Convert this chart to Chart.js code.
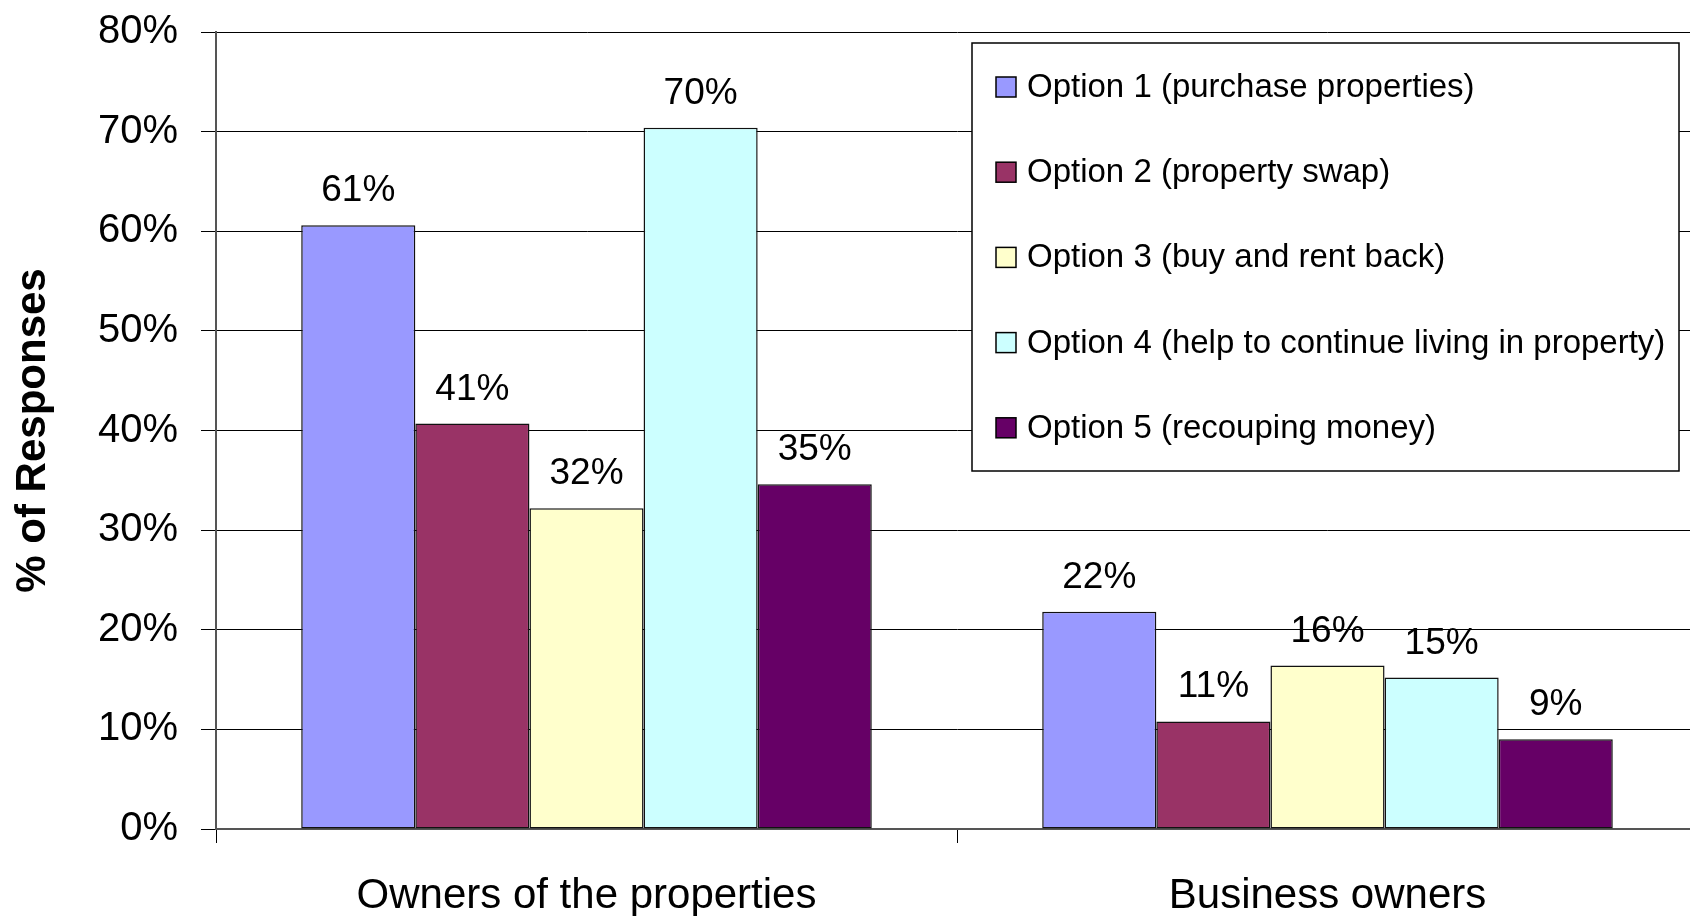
<!DOCTYPE html>
<html>
<head>
<meta charset="utf-8">
<script src="https://cdn.jsdelivr.net/npm/chart.js@4.4.0/dist/chart.umd.min.js"></script>
<style>
    html, body { margin: 0; padding: 0; background: #fff; overflow: hidden; }
    #wrap { width: 1700px; height: 916px; }
</style>
</head>
<body>
<div id="wrap"><canvas id="chart" width="1700" height="916"></canvas></div>
<script>
// data
const groups = ["Owners of the properties", "Business owners"];
const optionNames = [
    "Option 1 (purchase properties)",
    "Option 2 (property swap)",
    "Option 3 (buy and rent back)",
    "Option 4 (help to continue living in property)",
    "Option 5 (recouping money)"
];
const option1 = [60.6, 21.8];
const option2 = [40.7, 10.8];
const option3 = [32.2, 16.4];
const option4 = [70.4, 15.2];
const option5 = [34.6, 9.0];
const optionColors = ["#9999FF", "#993366", "#FFFFCC", "#CCFFFF", "#660066"];
const yTicks = [0, 10, 20, 30, 40, 50, 60, 70, 80];

const seriesValues = [option1, option2, option3, option4, option5];
const FONT = "'Liberation Sans', Arial, sans-serif";

// labels like "61%" above each bar
const valueLabels = {
    id: "valueLabels",
    afterDatasetsDraw(chart) {
        const ctx = chart.ctx;
        ctx.save();
        ctx.font = "37px " + FONT;
        ctx.fillStyle = "#000";
        ctx.textAlign = "center";
        ctx.textBaseline = "alphabetic";
        chart.data.datasets.forEach((ds, i) => {
            const meta = chart.getDatasetMeta(i);
            meta.data.forEach((bar, j) => {
                ctx.fillText(Math.round(ds.data[j]) + "%", bar.x, bar.y - 24);
            });
        });
        ctx.restore();
    }
};

// boxed legend sitting inside the plot, top right
const boxLegend = {
    id: "boxLegend",
    afterDraw(chart) {
        const ctx = chart.ctx;
        const box = { x: 972, y: 43, w: 707, h: 428 };
        ctx.save();
        ctx.fillStyle = "#fff";
        ctx.fillRect(box.x, box.y, box.w, box.h);
        ctx.strokeStyle = "#000";
        ctx.lineWidth = 1.5;
        ctx.strokeRect(box.x, box.y, box.w, box.h);
        ctx.font = "33px " + FONT;
        ctx.textBaseline = "middle";
        ctx.textAlign = "left";
        chart.data.datasets.forEach((ds, i) => {
            const cy = 87 + i * 85.2;
            ctx.fillStyle = ds.backgroundColor;
            ctx.fillRect(996, cy - 10, 20, 20);
            ctx.strokeStyle = "#000";
            ctx.lineWidth = 1.5;
            ctx.strokeRect(996, cy - 10, 20, 20);
            ctx.fillStyle = "#000";
            ctx.fillText(ds.label, 1027, cy + 1);
        });
        ctx.restore();
    }
};

const datasets = optionNames.map((name, i) => ({
    label: name,
    data: seriesValues[i],
    backgroundColor: optionColors[i],
    borderColor: "#111",
    borderWidth: 1.5,
    borderSkipped: false,
    categoryPercentage: 0.77,
    barPercentage: 1.0
}));

new Chart(document.getElementById("chart").getContext("2d"), {
    type: "bar",
    data: { labels: groups, datasets: datasets },
    options: {
        responsive: false,
        animation: false,
        devicePixelRatio: 1,
        layout: { padding: { top: 32, right: 2, bottom: 0, left: 0 } },
        plugins: {
            legend: { display: false },
            tooltip: { enabled: false }
        },
        scales: {
            x: {
                grid: {
                    drawOnChartArea: false,
                    drawTicks: true,
                    tickLength: 14,
                    color: "#000",
                    lineWidth: 1
                },
                border: { display: true, color: "#555", width: 2 },
                ticks: {
                    color: "#000",
                    font: { family: FONT, size: 42 },
                    padding: 28
                },
                afterFit: axis => { axis.height = 87; }
            },
            y: {
                min: 0,
                max: 80,
                afterBuildTicks: axis => { axis.ticks = yTicks.map(v => ({ value: v })); },
                grid: {
                    color: "#000",
                    lineWidth: 1,
                    drawTicks: true,
                    tickLength: 15
                },
                border: { display: true, color: "#555", width: 2 },
                ticks: {
                    color: "#000",
                    font: { family: FONT, size: 40 },
                    padding: 23,
                    callback: v => v + "%"
                },
                title: {
                    display: true,
                    text: "% of Responses",
                    color: "#000",
                    font: { family: FONT, size: 42, weight: "bold" },
                    padding: { top: 8, bottom: 0 }
                },
                afterFit: axis => {
                    axis.width = 216;
                    axis.paddingTop = 0;
                    axis.paddingBottom = 0;
                }
            }
        }
    },
    plugins: [valueLabels, boxLegend]
});
</script>
</body>
</html>
